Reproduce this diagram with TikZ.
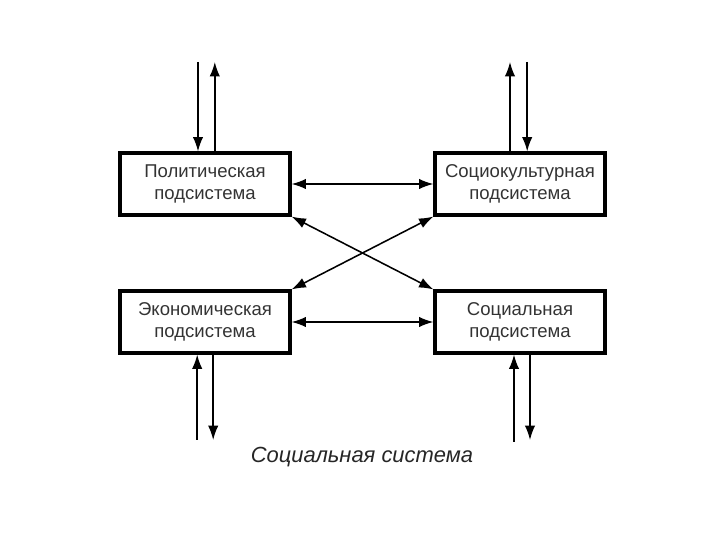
\documentclass[tikz,border=0pt]{standalone}
\usepackage{fontspec}
\setmainfont{Liberation Sans}
\usepackage{tikz}
\usetikzlibrary{arrows.meta}

\tikzset{
  subsys/.style={draw,line width=2.2pt,minimum width=4.25cm,minimum height=1.55cm,
    align=center,text=black!80,font=\fontsize{13.2}{15.5}\selectfont},
  link/.style={line width=1.1pt,>={Latex[length=3.6mm,width=2.6mm]}}
}

\begin{document}
\begin{tikzpicture}
      \useasboundingbox (0,0) rectangle (18,13.5);
      \node [subsys] (pol) at (5.125,8.9) {Политическая\\подсистема};
      \node [subsys] (cult) at (13.0,8.9) {Социокультурная\\подсистема};
      \node [subsys] (econ) at (5.125,5.45) {Экономическая\\подсистема};
      \node [subsys] (soc) at (13.0,5.45) {Социальная\\подсистема};
      \coordinate (polin) at (4.95,11.95);
      \coordinate (polout) at (5.37,11.95);
      \coordinate (cultout) at (12.75,11.95);
      \coordinate (cultin) at (13.18,11.95);
      \coordinate (econin) at (4.93,2.5);
      \coordinate (econout) at (5.33,2.5);
      \coordinate (socin) at (12.85,2.45);
      \coordinate (socout) at (13.25,2.5);
      \draw [link,->] (polin) -- (polin |- pol.north);
      \draw [link,<-] (polout) -- (polout |- pol.north);
      \draw [link,<-] (cultout) -- (cultout |- cult.north);
      \draw [link,->] (cultin) -- (cultin |- cult.north);
      \draw [link,->] (econin) -- (econin |- econ.south);
      \draw [link,<-] (econout) -- (econout |- econ.south);
      \draw [link,->] (socin) -- (socin |- soc.south);
      \draw [link,<-] (socout) -- (socout |- soc.south);
      \draw [link,<->] (pol) -- (cult);
      \draw [link,<->] (econ) -- (soc);
      \draw [link,<->] (pol.south east) -- (soc.north west);
      \draw [link,<->] (econ.north east) -- (cult.south west);
      \node [text=black!85,font=\fontsize{15.6}{19}\selectfont\itshape] (sys) at (9.05,2.08) {Социальная система};
    \end{tikzpicture}
\end{document}
